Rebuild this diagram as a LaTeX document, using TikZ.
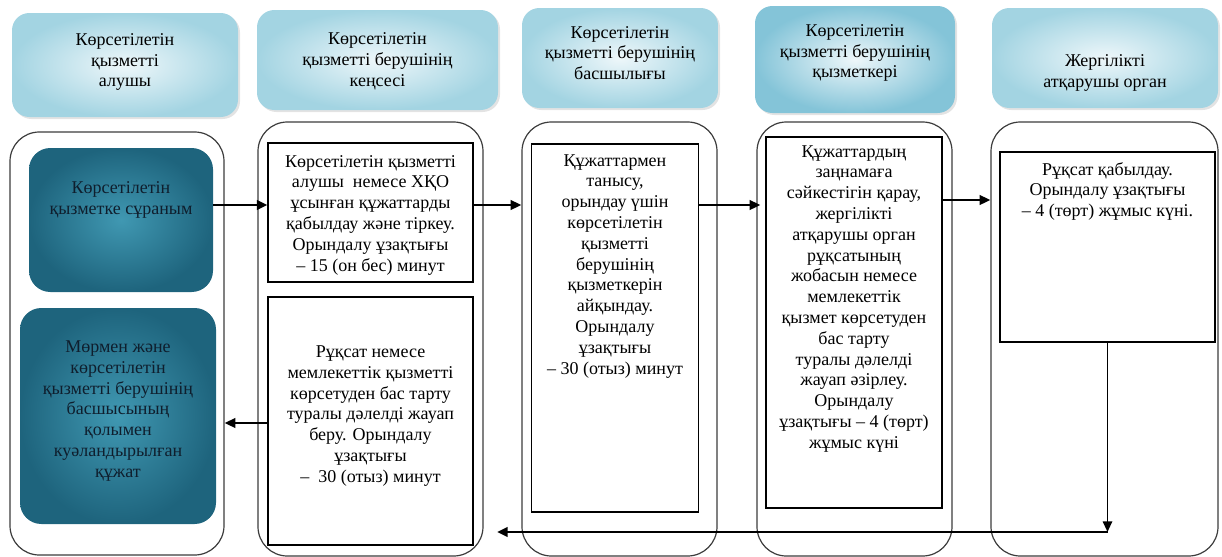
\documentclass[tikz,border=0pt]{standalone}
\usepackage{fontspec}
\setmainfont{Liberation Serif}
\usetikzlibrary{arrows.meta,shadows}
\definecolor{hin}{RGB}{238,247,250}
\definecolor{hout}{RGB}{163,212,226}
\definecolor{hout4}{RGB}{132,196,216}
\definecolor{din}{RGB}{64,152,178}
\definecolor{dout}{RGB}{30,100,125}
\definecolor{lanec}{RGB}{60,60,60}
\definecolor{dtext}{RGB}{15,30,45}
\tikzset{
 hdr/.style={rectangle, rounded corners=13pt, inner sep=0pt, shade, inner color=hin, outer color=hout,
   drop shadow={shadow xshift=1.5pt, shadow yshift=-1.5pt, opacity=0.22}},
 lane/.style={rectangle, rounded corners=22pt, draw=lanec, line width=0.9pt, inner sep=0pt},
 dark/.style={rectangle, rounded corners=16pt, inner sep=0pt, shade, inner color=din, outer color=dout},
 stepbox/.style={rectangle, draw=black, line width=0.8pt, inner sep=0pt, fill=white},
 txt/.style={inner sep=0pt, align=center, font=\fontsize{13.5}{15.6}\selectfont},
 arr/.style={line width=2pt, -{Triangle[length=8pt,width=7pt]}},
}
\begin{document}
\begin{tikzpicture}[x=0.75pt,y=-0.75pt]
\useasboundingbox (0,0) rectangle (1222,557);
% lanes
\node[lane, minimum width=160.5pt, minimum height=317.25pt] (L1) at (117,343.5) {};
\node[lane, minimum width=168.75pt, minimum height=325.5pt] (L2) at (370.5,339) {};
\node[lane, minimum width=146.25pt, minimum height=325.5pt] (L3) at (619.5,339) {};
\node[lane, minimum width=146.25pt, minimum height=325.5pt] (L4) at (854.5,339) {};
\node[lane, minimum width=170.25pt, minimum height=325.5pt] (L5) at (1104.5,339) {};
% headers
\node[hdr, minimum width=169.5pt, minimum height=78pt] (H1) at (125,65) {};
\node[txt] (H1t) at (125,62) {Көрсетілетін\\қызметті\\алушы};
\node[hdr, minimum width=180.75pt, minimum height=75pt] (H2) at (377.5,60) {};
\node[txt] (H2t) at (377.5,61) {Көрсетілетін\\қызметті берушінің\\кеңсесі};
\node[hdr, minimum width=147pt, minimum height=75pt] (H3) at (620,58) {};
\node[txt] (H3t) at (620,53) {Көрсетілетін\\қызметті берушінің\\басшылығы};
\node[hdr, outer color=hout4, minimum width=150pt, minimum height=80.25pt] (H4) at (855,59.5) {};
\node[txt] (H4t) at (855,53) {Көрсетілетін\\қызметті берушінің\\қызметкері};
\node[hdr, minimum width=169.5pt, minimum height=75pt] (H5) at (1105,58) {};
\node[txt] (H5t) at (1105,73) {Жергілікті\\атқарушы орган};
% dark boxes
\node[dark, minimum width=138pt, minimum height=108pt] (D1) at (121,220) {};
\node[txt, text=dtext] (D1t) at (121,200) {Көрсетілетін\\қызметке сұраным};
\node[dark, minimum width=147pt, minimum height=162pt] (D2) at (118,416) {};
\node[txt, text=dtext] (D2t) at (118,411) {Мөрмен және\\көрсетілетін\\қызметті берушінің\\басшысының\\қолымен\\куәландырылған\\құжат};
% step boxes
\node[stepbox, minimum width=153.75pt, minimum height=104.25pt] (B2a) at (370.5,212.5) {};
\node[txt] (B2at) at (370.5,215) {Көрсетілетін қызметті\\алушы~ немесе ХҚО\\ұсынған құжаттарды\\қабылдау және тіркеу.\\Орындалу ұзақтығы\\– 15 (он бес) минут};
\node[stepbox, minimum width=153.75pt, minimum height=186pt] (B2b) at (370.5,421) {};
\node[txt] (B2bt) at (370.5,416) {Рұқсат немесе\\мемлекеттік қызметті\\көрсетуден бас тарту\\туралы дәлелді жауап\\беру. Орындалу\\ұзақтығы\\–~ 30 (отыз) минут};
\node[stepbox, minimum width=125.25pt, minimum height=276pt] (B3) at (615,328) {};
\node[txt, anchor=north] (B3t) at (615,154) {Құжаттармен\\танысу,\\орындау үшін\\көрсетілетін\\қызметті\\берушінің\\қызметкерін\\айқындау.\\Орындалу\\ұзақтығы\\– 30 (отыз) минут};
\node[stepbox, minimum width=132pt, minimum height=278.25pt] (B4) at (854,322.5) {};
\node[txt, anchor=north] (B4t) at (854,145) {Құжаттардың\\заңнамаға\\сәйкестігін қарау,\\жергілікті\\атқарушы орган\\рұқсатының\\жобасын немесе\\мемлекеттік\\қызмет көрсетуден\\бас тарту\\туралы дәлелді\\жауап әзірлеу.\\Орындалу\\ұзақтығы – 4 (төрт)\\жұмыс күні};
\node[stepbox, minimum width=161.25pt, minimum height=142.5pt] (B5) at (1107.5,247) {};
\node[txt, anchor=north] (B5t) at (1107.5,162) {Рұқсат қабылдау.\\Орындалу ұзақтығы\\– 4 (төрт) жұмыс күні.};
% connectors
\coordinate (r1) at (0,205);
\coordinate (r2) at (0,200);
\coordinate (r3) at (0,423);
\coordinate (r4) at (0,532);
\draw[arr] (D1.east |- r1) -- (B2a.west |- r1);
\draw[arr] (B2a.east |- r1) -- (L3.west |- r1);
\draw[arr] (B3.east |- r1) -- ([xshift=3pt]L4.west |- r1);
\draw[arr] (B4.east |- r2) -- (L5.west |- r2);
\draw[arr] (B2b.west |- r3) -- (L1.east |- r3);
\coordinate (c1) at (B5.south |- r4);
\coordinate (cend) at (497,532);
\draw[arr, line width=1.4pt] (B5.south) -- (c1);
\draw[arr] (c1) -- (cend);
\end{tikzpicture}
\end{document}
